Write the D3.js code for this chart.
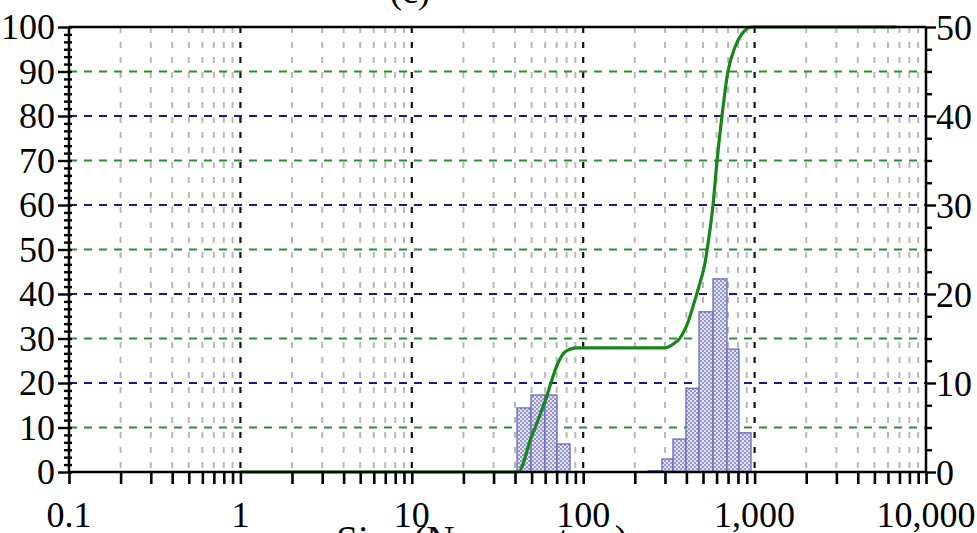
<!DOCTYPE html>
<html>
<head>
<meta charset="utf-8">
<script src="https://cdn.jsdelivr.net/npm/d3@7"></script>
<style>
  html, body { margin: 0; padding: 0; background: #fff; }
  svg { display: block; }
  text { font-family: "Liberation Serif", "Times New Roman", serif; fill: #000; }
</style>
</head>
<body>
<svg id="chart" width="977" height="533"></svg>
<script>
// ---- data ----
const xMajorTicks = [0.1, 1, 10, 100, 1000, 10000];
const xMajorLabels = ["0.1", "1", "10", "100", "1,000", "10,000"];
const leftTicks = [0, 10, 20, 30, 40, 50, 60, 70, 80, 90, 100];
const rightTicks = [0, 10, 20, 30, 40, 50];
const gridGreen = [10, 30, 50, 70, 90];
const gridNavy = [20, 40, 60, 80];

// histogram bins: lower size (nm), upper size (nm), value (% , right axis)
const binLow  = [41.1, 49.6, 59.8, 70.3, 239, 288, 334, 398, 474, 572, 690, 811];
const binHigh = [49.6, 59.8, 70.3, 83.8, 288, 334, 398, 474, 572, 690, 811, 953];
const binValue = [7.2, 8.65, 8.65, 3.15, 0.15, 1.46, 3.7, 9.4, 18.0, 21.7, 13.8, 4.4];

// cumulative curve: size (nm), cumulative % (left axis)
const curveSize = [1, 41.7, 49.6, 59.8, 71.3, 78.3, 92, 200, 300, 330, 367, 409, 449, 480, 514, 528, 572, 604, 645, 699, 769, 844, 966, 6730];
const curveCum  = [0, 0, 7.6, 15.8, 24.5, 27.0, 27.9, 27.9, 27.9, 28.6, 30.1, 33.7, 38.7, 42.5, 47.0, 49.9, 60, 70, 80, 90, 95.5, 98.5, 100, 100];

const titleText = "(c)";
const xLabelText = "Size (Nanometers)";

// ---- layout ----
const L = 69, R = 926, T = 27, B = 472;
const svg = d3.select("#chart");

const x = d3.scaleLog().domain([0.1, 10000]).range([L, R]);
const yL = d3.scaleLinear().domain([0, 100]).range([B, T]);
const yR = d3.scaleLinear().domain([0, 50]).range([B, T]);

// minor x values (2..9 per decade)
const xMinor = [];
[0.1, 1, 10, 100, 1000].forEach(d => { for (let k = 2; k <= 9; k++) xMinor.push(d * k); });

// pattern for bars
const defs = svg.append("defs");
const pat = defs.append("pattern").attr("id", "chk").attr("patternUnits", "userSpaceOnUse")
  .attr("width", 4).attr("height", 4);
pat.append("rect").attr("width", 4).attr("height", 4).attr("fill", "#e4e4f4");
pat.append("rect").attr("width", 2).attr("height", 2).attr("fill", "#9696cc");
pat.append("rect").attr("x", 2).attr("y", 2).attr("width", 2).attr("height", 2).attr("fill", "#9696cc");

// ---- vertical grid ----
const grid = svg.append("g");
grid.selectAll("line.vminor").data(xMinor).join("line")
  .attr("x1", d => x(d)).attr("x2", d => x(d)).attr("y1", T).attr("y2", B)
  .attr("stroke", "#b8b8b8").attr("stroke-width", 2).attr("stroke-dasharray", "6,9");
grid.selectAll("line.vmajor").data([1, 10, 100, 1000]).join("line")
  .attr("x1", d => x(d)).attr("x2", d => x(d)).attr("y1", T).attr("y2", B)
  .attr("stroke", "#111").attr("stroke-width", 2.2).attr("stroke-dasharray", "6,9");

// ---- horizontal grid ----
grid.selectAll("line.hg").data(gridGreen).join("line")
  .attr("x1", L).attr("x2", R).attr("y1", d => yL(d)).attr("y2", d => yL(d))
  .attr("stroke", "#2f8a3c").attr("stroke-width", 2.2).attr("stroke-dasharray", "8,7");
grid.selectAll("line.hn").data(gridNavy).join("line")
  .attr("x1", L).attr("x2", R).attr("y1", d => yL(d)).attr("y2", d => yL(d))
  .attr("stroke", "#1c1c78").attr("stroke-width", 2.2).attr("stroke-dasharray", "8,7");

// ---- bars ----
const bars = binValue.map((v, i) => ({ lo: binLow[i], hi: binHigh[i], v }));
svg.append("g").selectAll("rect").data(bars).join("rect")
  .attr("x", d => x(d.lo)).attr("width", d => x(d.hi) - x(d.lo))
  .attr("y", d => yR(d.v)).attr("height", d => yR(0) - yR(d.v))
  .attr("fill", "url(#chk)").attr("stroke", "#6a6ab4").attr("stroke-width", 1.3);

// ---- cumulative curve ----
const pts = curveSize.map((s, i) => [s, curveCum[i]]);
svg.append("path").datum(pts)
  .attr("d", d3.line().x(d => x(d[0])).y(d => yL(d[1])).curve(d3.curveMonotoneX))
  .attr("fill", "none").attr("stroke", "#17871a").attr("stroke-width", 3.2);

// ---- axes ----
// top and frame lines
svg.append("line").attr("x1", L).attr("x2", R).attr("y1", T).attr("y2", T)
  .attr("stroke", "#000").attr("stroke-width", 2.5);

// bottom axis
const bx = svg.append("g").attr("transform", `translate(0,${B})`)
  .call(d3.axisBottom(x).tickValues(xMinor.concat(xMajorTicks)).tickSize(12).tickSizeOuter(0).tickFormat(""));
bx.select(".domain").attr("stroke-width", 2.5).attr("d", `M${L},0H${R}`);
bx.selectAll(".tick line").attr("stroke-width", 2.6);
svg.append("g").selectAll("text").data(xMajorTicks).join("text")
  .attr("x", d => x(d)).attr("y", 527).attr("text-anchor", "middle")
  .style("font-size", "36px").text((d, i) => xMajorLabels[i]);

// left axis
const leftMinor = d3.range(0, 100.001, 10 / 6).filter(v => Math.abs(v / 10 - Math.round(v / 10)) > 1e-6);
const la = svg.append("g").attr("transform", `translate(${L},0)`)
  .call(d3.axisLeft(yL).tickValues(leftMinor).tickSize(5).tickSizeOuter(0).tickFormat(""));
la.select(".domain").attr("stroke-width", 2.5).attr("d", `M0,${T}V${B}`);
la.selectAll(".tick line").attr("x1", 3).attr("stroke-width", 2.4);
const lm = svg.append("g").attr("transform", `translate(${L},0)`)
  .call(d3.axisLeft(yL).tickValues(leftTicks).tickSize(11).tickSizeOuter(0).tickFormat(""));
lm.select(".domain").remove();
lm.selectAll(".tick line").attr("x1", 3).attr("stroke-width", 2.4);
svg.append("g").selectAll("text").data(leftTicks).join("text")
  .attr("x", 55).attr("y", d => yL(d) + 12).attr("text-anchor", "end")
  .style("font-size", "36px").text(d => d);

// right axis
const rightMinor = d3.range(0, 50.001, 2.5).filter(v => v % 10 !== 0);
const ra = svg.append("g").attr("transform", `translate(${R},0)`)
  .call(d3.axisRight(yR).tickValues(rightMinor).tickSize(6).tickSizeOuter(0).tickFormat(""));
ra.select(".domain").attr("stroke-width", 2.5).attr("d", `M0,${T}V${B}`);
ra.selectAll(".tick line").attr("stroke-width", 2.4);
const rm = svg.append("g").attr("transform", `translate(${R},0)`)
  .call(d3.axisRight(yR).tickValues(rightTicks).tickSize(10).tickSizeOuter(0).tickFormat(""));
rm.select(".domain").remove();
rm.selectAll(".tick line").attr("stroke-width", 2.4);
svg.append("g").selectAll("text").data(rightTicks).join("text")
  .attr("x", 936).attr("y", d => yR(d) + 13).attr("text-anchor", "start")
  .style("font-size", "36px").text(d => d);

// title and x label (partly cut off by the frame as in the reference)
svg.append("text").attr("x", 410).attr("y", 3).attr("text-anchor", "middle")
  .style("font-size", "36px").text(titleText);
svg.append("text").attr("x", 482).attr("y", 553).attr("text-anchor", "middle")
  .style("font-size", "39px").text(xLabelText);
</script>
</body>
</html>
